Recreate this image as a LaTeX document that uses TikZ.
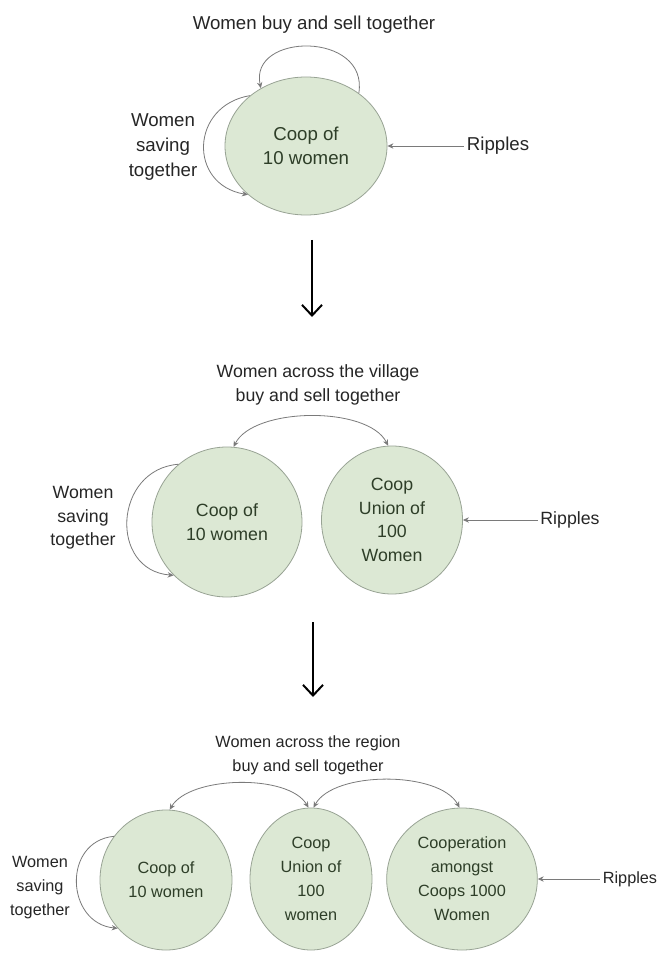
\documentclass[tikz,border=0pt]{standalone}
\usepackage{fontspec}
\setmainfont{Liberation Sans}
\usetikzlibrary{shapes.geometric,arrows.meta}
\definecolor{coopfill}{HTML}{DCE8D4}
\definecolor{coopline}{HTML}{98A394}
\definecolor{cooptext}{HTML}{2E3E28}
\definecolor{lbltext}{HTML}{262626}
\definecolor{connline}{HTML}{7A7A7A}
\tikzset{
  coop/.style={ellipse,draw=coopline,fill=coopfill,line width=0.6pt,text=cooptext,align=center,inner sep=0pt},
  lbl/.style={text=lbltext,align=center,inner sep=2pt},
  conn/.style={draw=connline,line width=0.6pt},
  onetip/.style={-{Stealth[length=4.5pt,width=4pt]}},
  twotips/.style={{Stealth[length=4.5pt,width=4pt]}-{Stealth[length=4.5pt,width=4pt]}},
  bigdown/.style={line width=1.5pt,-{Straight Barb[length=8pt,width=15pt]}},
  fA/.style={font=\fontsize{14}{18.5}\selectfont},
  fB/.style={font=\fontsize{13.3}{17.8}\selectfont},
  fC/.style={font=\fontsize{12.2}{18}\selectfont}
}
\begin{document}
\begin{tikzpicture}[x=0.75pt,y=-0.75pt]
\useasboundingbox (0,0) rectangle (659,955);
\fill[white] (0,0) rectangle (659,955);

% ---------- top section ----------
\node[coop,fA,minimum width=121.5pt,minimum height=103.5pt] (c1) at (306,146) {Coop of\\10 women};
\node[lbl,fA] (t1) at (314,25) {Women buy and sell together};
\node[lbl,fA] (s1) at (163,147) {Women\\saving\\together};
\node[lbl,fA] (r1) at (498,146) {Ripples};
\draw[conn,onetip] (c1.45) .. controls +(10,-62) and +(-12,-56) .. (c1.128);
\draw[conn,onetip] (c1.138) .. controls +(-60,10) and +(-60,-10) .. (c1.220);
\draw[conn,onetip] (r1.west) -- (c1.east);

\coordinate (a1s) at (312,240);
\coordinate (a1e) at (312,317);
\draw[bigdown] (a1s) -- (a1e);

% ---------- middle section ----------
\node[coop,fB,minimum width=112.5pt,minimum height=112.5pt] (m1) at (227,522) {Coop of\\10 women};
\node[coop,fB,minimum width=105.75pt,minimum height=111pt] (m2) at (392,520) {Coop\\Union of\\100\\Women};
\node[lbl,fB] (t2) at (318,385) {Women across the village\\buy and sell together};
\node[lbl,fB] (s2) at (83,518) {Women\\saving\\together};
\node[lbl,fB] (r2) at (570,520) {Ripples};
\draw[conn,twotips] (m1.85) .. controls +(20,-40) and +(-20,-40) .. (m2.93);
\draw[conn,onetip] (m1.130) .. controls +(-65,5) and +(-65,-5) .. (m1.225);
\draw[conn,onetip] (r2.west) -- (m2.east);

\coordinate (a2s) at (313,622);
\coordinate (a2e) at (313,697);
\draw[bigdown] (a2s) -- (a2e);

% ---------- bottom section ----------
\node[coop,fC,minimum width=99pt,minimum height=105pt] (b1) at (166,880) {Coop of\\10 women};
\node[coop,fC,minimum width=91.5pt,minimum height=106.5pt] (b2) at (311,879) {Coop\\Union of\\100\\women};
\node[coop,fC,minimum width=113pt,minimum height=106.5pt] (b3) at (462,879) {Cooperation\\amongst\\Coops 1000\\Women};
\node[lbl,fC] (t3) at (308,755) {Women across the region\\buy and sell together};
\node[lbl,fC] (s3) at (40,888) {Women\\saving\\together};
\node[lbl,fC] (r3) at (630,879) {Ripples};
\draw[conn,twotips] (b1.87) .. controls +(20,-34) and +(-20,-34) .. (b2.92);
\draw[conn,twotips] (b2.88) .. controls +(20,-37) and +(-20,-37) .. (b3.92);
\draw[conn,onetip] (b1.140) .. controls +(-52,5) and +(-52,-5) .. (b1.225);
\draw[conn,onetip] (r3.west) -- (b3.east);
\end{tikzpicture}
\end{document}
